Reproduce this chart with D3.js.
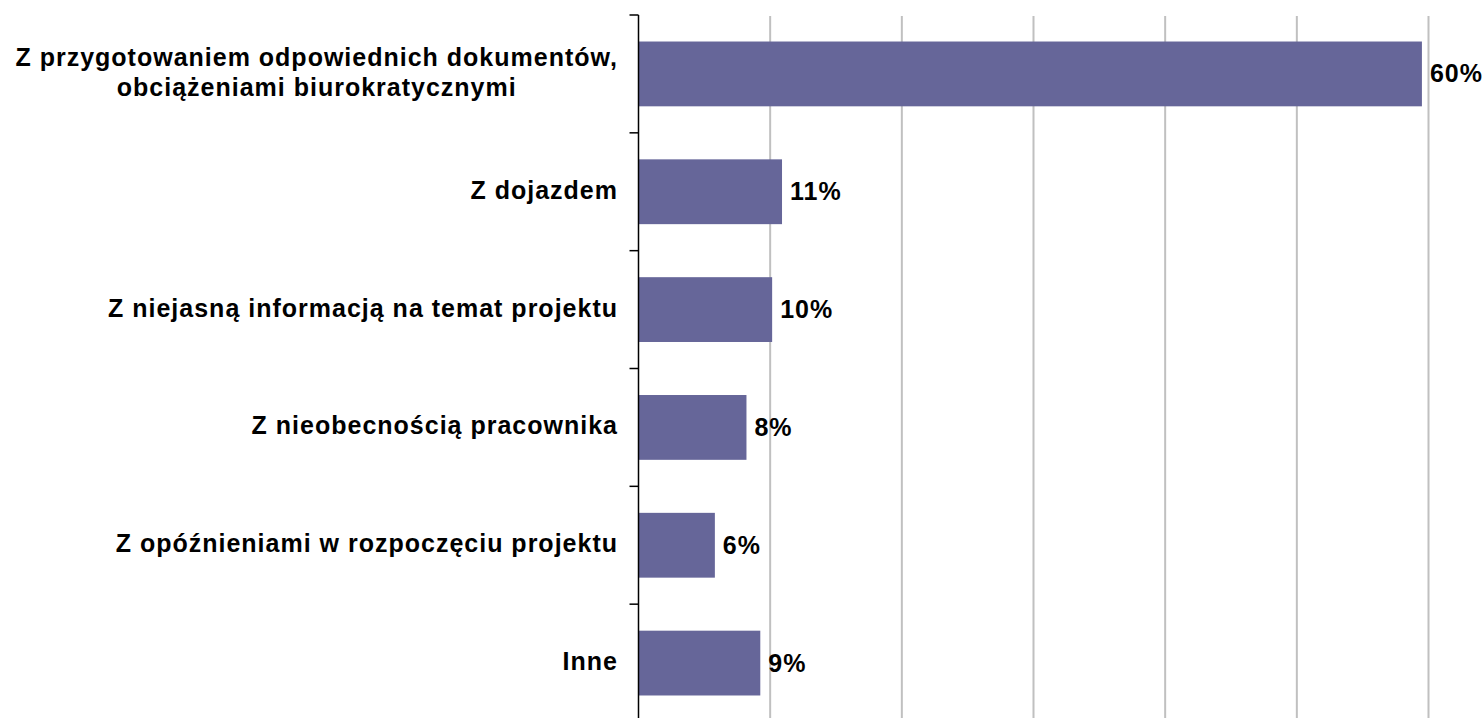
<!DOCTYPE html>
<html>
<head>
<meta charset="utf-8">
<script src="https://cdn.jsdelivr.net/npm/d3@7"></script>
<style>
  html, body { margin: 0; padding: 0; background: #fff; overflow: hidden; }
  svg { display: block; }
  text { font-family: "Liberation Sans", Arial, sans-serif; font-weight: bold; fill: #000; }
</style>
</head>
<body>
<svg id="chart" width="1483" height="718"></svg>
<script>
// Data
const categories = [
  ["Z przygotowaniem odpowiednich dokumentów,", "obciążeniami biurokratycznymi"],
  ["Z dojazdem"],
  ["Z niejasną informacją na temat projektu"],
  ["Z nieobecnością pracownika"],
  ["Z opóźnieniami w rozpoczęciu projektu"],
  ["Inne"]
];
const values = [59.5, 10.9, 10.15, 8.2, 5.8, 9.25];
const valueLabels = ["60%", "11%", "10%", "8%", "6%", "9%"];
const gridTicks = [0, 10, 20, 30, 40, 50, 60];

const svg = d3.select("#chart");
const fontSize = 25;
const letterSpacing = 1;

const x = d3.scaleLinear().domain([0, 60]).range([638.5, 1428.5]);
const y = d3.scaleBand()
  .domain(d3.range(categories.length))
  .range([15, 722])
  .paddingInner(0.45)
  .paddingOuter(0.225);

const bottom = 730;

// gridlines
svg.append("g").selectAll("line")
  .data(gridTicks.filter(d => d > 0))
  .join("line")
  .attr("x1", d => x(d)).attr("x2", d => x(d))
  .attr("y1", 16).attr("y2", bottom)
  .attr("stroke", "#c0c0c0")
  .attr("stroke-width", 2);

// bars
svg.append("g").selectAll("rect")
  .data(values)
  .join("rect")
  .attr("x", x(0))
  .attr("y", (d, i) => y(i))
  .attr("width", d => x(d) - x(0))
  .attr("height", y.bandwidth())
  .attr("fill", "#666699");

// y axis line
svg.append("line")
  .attr("x1", x(0)).attr("x2", x(0))
  .attr("y1", 15).attr("y2", bottom)
  .attr("stroke", "#000").attr("stroke-width", 1.5);

// tick marks at band boundaries
const gap = y.step() * y.paddingInner();
svg.append("g").selectAll("line")
  .data(d3.range(categories.length))
  .join("line")
  .attr("x1", x(0) - 9).attr("x2", x(0))
  .attr("y1", i => y(i) - gap / 2).attr("y2", i => y(i) - gap / 2)
  .attr("stroke", "#000").attr("stroke-width", 1.5);

// category labels
const labelRight = 617 + letterSpacing;
const lineH = 30;
categories.forEach((lines, i) => {
  const cy = y(i) + y.bandwidth() / 2;
  const n = lines.length;
  const g = svg.append("g");
  const first = g.append("text")
    .attr("x", labelRight)
    .attr("y", cy + 7 - (n - 1) * lineH / 2)
    .attr("text-anchor", "end")
    .style("font-size", fontSize + "px")
    .style("letter-spacing", letterSpacing + "px")
    .text(lines[0]);
  if (n > 1) {
    const w = first.node().getComputedTextLength();
    for (let k = 1; k < n; k++) {
      g.append("text")
        .attr("x", labelRight - w / 2)
        .attr("y", cy + 7 - (n - 1) * lineH / 2 + k * lineH)
        .attr("text-anchor", "middle")
        .style("font-size", fontSize + "px")
        .style("letter-spacing", letterSpacing + "px")
        .text(lines[k]);
    }
  }
});

// value labels
svg.append("g").selectAll("text")
  .data(values)
  .join("text")
  .attr("x", d => x(d) + 8)
  .attr("y", (d, i) => y(i) + y.bandwidth() / 2 + 8.5)
  .style("font-size", fontSize + "px")
  .style("letter-spacing", letterSpacing + "px")
  .text((d, i) => valueLabels[i]);
</script>
</body>
</html>
